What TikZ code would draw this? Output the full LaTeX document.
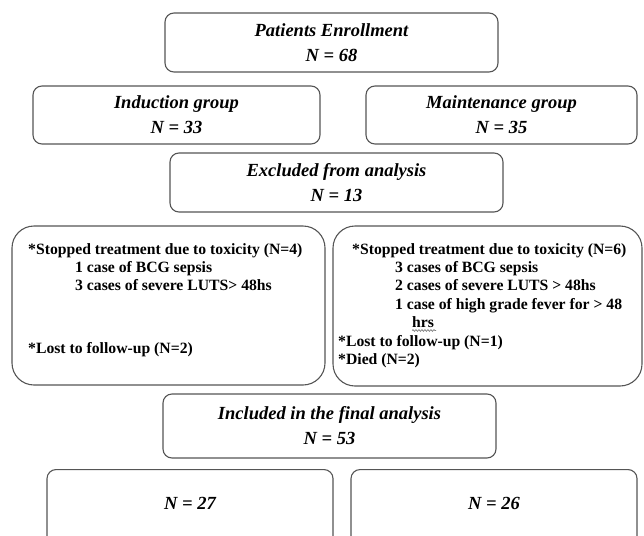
\documentclass[tikz,border=0pt]{standalone}
\usepackage{fontspec}
\setmainfont{Liberation Serif}
\usetikzlibrary{decorations.pathmorphing}
\definecolor{edge}{HTML}{555555}
\begin{document}
\begin{tikzpicture}[x=1pt,y=-1pt,
  box/.style={draw=edge, line width=1.1pt, rounded corners=9pt, inner sep=0pt},
  bigbox/.style={box, rounded corners=22pt},
  title/.style={font=\fontsize{18.5}{25}\selectfont\bfseries\itshape, align=center},
  body/.style={font=\fontsize{15.7}{18.4}\selectfont\bfseries, align=left, inner sep=0pt, anchor=north west}]
\useasboundingbox (0,0) rectangle (644,535);
\node[box, title, minimum width=333pt, minimum height=59pt] (enroll) at (331.5,42.5) {Patients Enrollment\\N = 68};
\node[box, title, minimum width=287pt, minimum height=58pt] (induct) at (176.5,115) {Induction group\\N = 33};
\node[box, title, minimum width=271pt, minimum height=58pt] (maint) at (501.5,115) {Maintenance group\\N = 35};
\node[box, title, minimum width=333pt, minimum height=59pt] (excl) at (336.5,182.5) {Excluded from analysis\\N = 13};
\node[bigbox, minimum width=313pt, minimum height=159pt] (leftbig) at (168.5,305.5) {};
\node[bigbox, minimum width=309pt, minimum height=160pt] (rightbig) at (487.5,306) {};
\node[body] (lefttext) at (28,243) {*Stopped treatment due to toxicity (N=4)\\
\hspace*{47pt}1 case of BCG sepsis\\
\hspace*{47pt}3 cases of severe LUTS> 48hs\\[44pt]
*Lost to follow-up (N=2)};
\node[body] (righttext) at (338,243) {\hspace*{14pt}*Stopped treatment due to toxicity (N=6)\\
\hspace*{57pt}3 cases of BCG sepsis\\
\hspace*{57pt}2 cases of severe LUTS > 48hs\\
\hspace*{57pt}1 case of high grade fever for > 48\\
\hspace*{74pt}hrs\\
*Lost to follow-up (N=1)\\
*Died (N=2)};
\draw[gray, line width=0.7pt, decorate, decoration={snake, amplitude=0.9pt, segment length=3pt}] (412,330.5) -- (436,330.5);
\node[box, title, minimum width=333pt, minimum height=64pt] (incl) at (329.5,426) {Included in the final analysis\\N = 53};
\node[box, minimum width=286pt, minimum height=100pt, anchor=north] (n27) at (190,469) {};
\node[title, anchor=center] (n27t) at (190,503) {N = 27};
\node[box, minimum width=286pt, minimum height=100pt, anchor=north] (n26) at (494,469) {};
\node[title, anchor=center] (n26t) at (494,503) {N = 26};
\end{tikzpicture}
\end{document}
